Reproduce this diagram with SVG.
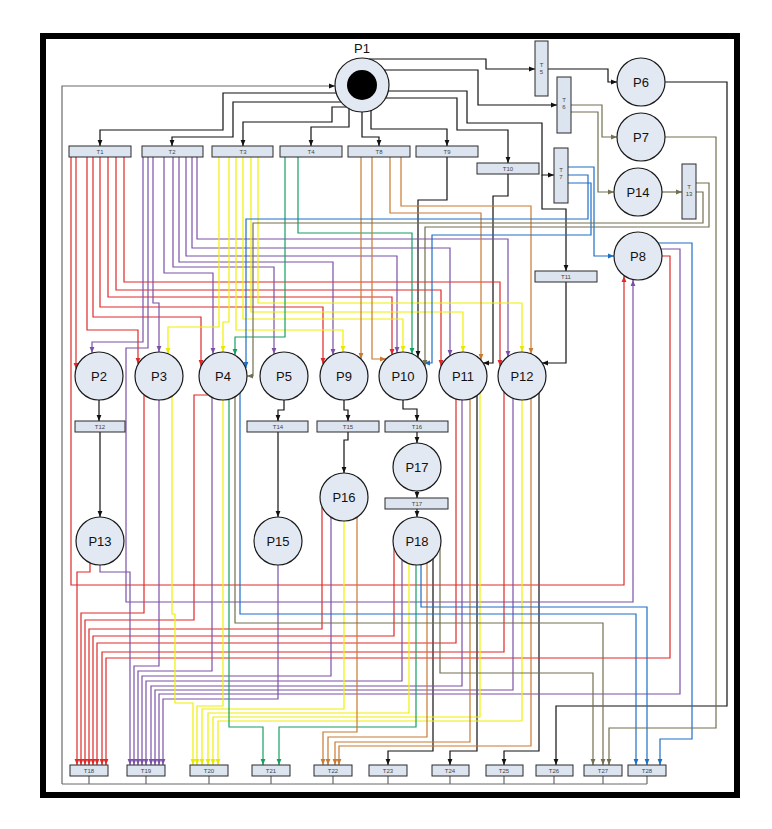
<svg xmlns="http://www.w3.org/2000/svg" width="772" height="829" viewBox="0 0 772 829">
<defs>
<style>
.pl{fill:#e3e9f3;stroke:#1a1a1a;stroke-width:1.2}
.tr{fill:#dce4ef;stroke:#2a2a2a;stroke-width:1}
.lp{font-family:"Liberation Sans",Arial,sans-serif;font-size:13px;text-anchor:middle;fill:#111}
.lt{font-family:"Liberation Sans",Arial,sans-serif;font-size:6px;text-anchor:middle;fill:#444}
#connectors path{fill:none;stroke-width:1.2}
#connectors .k{stroke:#111;marker-end:url(#mk)}
#connectors .r{stroke:#e02828;marker-end:url(#mr)}
#connectors .u{stroke:#7b50a8;marker-end:url(#mu)}
#connectors .y{stroke:#f0f000;marker-end:url(#my)}
#connectors .g{stroke:#14a060;marker-end:url(#mg)}
#connectors .o{stroke:#c87a30;marker-end:url(#mo)}
#connectors .b{stroke:#1c6fc6;marker-end:url(#mb)}
#connectors .v{stroke:#727050;marker-end:url(#mv)}
#connectors .gr{stroke:#6a6a6a}
#connectors .gra{stroke:#6a6a6a;marker-end:url(#mk)}
</style>
<marker id="mk" viewBox="0 0 10 10" refX="10" refY="5" markerWidth="6" markerHeight="6" orient="auto" markerUnits="userSpaceOnUse"><path d="M0 1L10 5L0 9z" fill="#111"/></marker>
<marker id="mr" viewBox="0 0 10 10" refX="10" refY="5" markerWidth="6" markerHeight="6" orient="auto" markerUnits="userSpaceOnUse"><path d="M0 1L10 5L0 9z" fill="#e02828"/></marker>
<marker id="mu" viewBox="0 0 10 10" refX="10" refY="5" markerWidth="6" markerHeight="6" orient="auto" markerUnits="userSpaceOnUse"><path d="M0 1L10 5L0 9z" fill="#7b50a8"/></marker>
<marker id="my" viewBox="0 0 10 10" refX="10" refY="5" markerWidth="6" markerHeight="6" orient="auto" markerUnits="userSpaceOnUse"><path d="M0 1L10 5L0 9z" fill="#e8e800"/></marker>
<marker id="mg" viewBox="0 0 10 10" refX="10" refY="5" markerWidth="6" markerHeight="6" orient="auto" markerUnits="userSpaceOnUse"><path d="M0 1L10 5L0 9z" fill="#14a060"/></marker>
<marker id="mo" viewBox="0 0 10 10" refX="10" refY="5" markerWidth="6" markerHeight="6" orient="auto" markerUnits="userSpaceOnUse"><path d="M0 1L10 5L0 9z" fill="#c87a30"/></marker>
<marker id="mb" viewBox="0 0 10 10" refX="10" refY="5" markerWidth="6" markerHeight="6" orient="auto" markerUnits="userSpaceOnUse"><path d="M0 1L10 5L0 9z" fill="#1c6fc6"/></marker>
<marker id="mv" viewBox="0 0 10 10" refX="10" refY="5" markerWidth="6" markerHeight="6" orient="auto" markerUnits="userSpaceOnUse"><path d="M0 1L10 5L0 9z" fill="#727050"/></marker>
</defs>
<rect width="772" height="829" fill="#fff"/>
<rect x="43" y="36" width="694" height="759" fill="none" stroke="#000" stroke-width="6"/>
<g id="connectors">
<path class="gra" d="M62 784 V86 H335"/>
<path class="gr" d="M62 784 H647 M89 776 V784 M146 776 V784 M209 776 V784 M271 776 V784 M333 776 V784 M388 776 V784 M450 776 V784 M504 776 V784 M554 776 V784 M603 776 V784 M647 776 V784"/>
<path class="k" d="M336 93 H223 V130 H100 V146"/>
<path class="k" d="M341 102 H233 V137 H172 V146"/>
<path class="k" d="M346 107 H332 V122 H243 V146"/>
<path class="k" d="M349 109 V127 H311 V146"/>
<path class="k" d="M362 112 V137 H379 V146"/>
<path class="k" d="M371 110 V129 H447 V146"/>
<path class="k" d="M386 98 H457 V130 H508 V163"/>
<path class="k" d="M388 91 H467 V123 H542 V175 H554"/>
<path class="k" d="M542 175 V209 H566 V271"/>
<path class="k" d="M384 70 H478 V105 H557"/>
<path class="k" d="M369 59 H486 V69 H535"/>
<path class="k" d="M548 69 H608 V82 H617"/>
<path class="k" d="M447 157 V200 H418 V357"/>
<path class="k" d="M508 174 V196 H493 V363 H483"/>
<path class="k" d="M566 282 V363 H542"/>
<path class="k" d="M99 400 V421"/>
<path class="k" d="M100 432 V517"/>
<path class="k" d="M284 400 V410 H278 V421"/>
<path class="k" d="M278 432 V517"/>
<path class="k" d="M344 400 V410 H348 V421"/>
<path class="k" d="M348 432 V440 H344 V473"/>
<path class="k" d="M403 400 V409 H417 V421"/>
<path class="k" d="M417 432 V443"/>
<path class="k" d="M417 491 V498"/>
<path class="k" d="M417 509 V517"/>
<path class="k" d="M665 82 H727 V706 H556 V765"/>
<path class="k" d="M433 559 V751 H388 V765"/>
<path class="k" d="M477 395 V751 H450 V765"/>
<path class="k" d="M539 393 V751 H504 V765"/>
<path class="r" d="M71 157 V585 H624 V276"/>
<path class="r" d="M76 157 V369"/>
<path class="r" d="M87 157 V330 H138 V364"/>
<path class="r" d="M93 157 V317 H201 V366"/>
<path class="r" d="M100 157 V307 H323 V364"/>
<path class="r" d="M108 157 V297 H392 V355"/>
<path class="r" d="M116 157 V290 H441 V366"/>
<path class="r" d="M124 157 V282 H500 V366"/>
<path class="r" d="M90 563 V572 H77 V765"/>
<path class="r" d="M144 395 V613 H81 V765"/>
<path class="r" d="M208 395 H194 V620 H85 V765"/>
<path class="r" d="M322 507 V629 H89 V765"/>
<path class="r" d="M394 548 V636 H93 V765"/>
<path class="r" d="M456 399 V643 H97 V765"/>
<path class="r" d="M504 392 V652 H102 V765"/>
<path class="r" d="M662 256 H670 V658 H106 V765"/>
<path class="u" d="M143 157 V342 H92 V353"/>
<path class="u" d="M148 157 V348 H126 V602 H633 V280"/>
<path class="u" d="M153 157 V303 H159 V352"/>
<path class="u" d="M164 157 V273 H213 V354"/>
<path class="u" d="M173 157 V267 H274 V354"/>
<path class="u" d="M179 157 V262 H333 V355"/>
<path class="u" d="M186 157 V256 H397 V353"/>
<path class="u" d="M192 157 V248 H450 V356"/>
<path class="u" d="M197 157 V239 H508 V357"/>
<path class="u" d="M100 565 V572 H130 V765"/>
<path class="u" d="M159 400 V666 H134 V765"/>
<path class="u" d="M212 397 V671 H138 V765"/>
<path class="u" d="M331 517 V676 H142 V765"/>
<path class="u" d="M402 560 V681 H146 V765"/>
<path class="u" d="M462 400 V686 H151 V765"/>
<path class="u" d="M513 398 V690 H155 V765"/>
<path class="u" d="M661 249 H680 V694 H159 V765"/>
<path class="u" d="M278 565 V699 H163 V765"/>
<path class="y" d="M219 157 V327 H168 V354"/>
<path class="y" d="M229 157 V322 H223 V352"/>
<path class="y" d="M236 157 V330 H343 V352"/>
<path class="y" d="M243 157 V319 H403 V352"/>
<path class="y" d="M251 157 V312 H463 V352"/>
<path class="y" d="M258 157 V303 H522 V352"/>
<path class="y" d="M172 396 V614 H175 V703 H193 V765"/>
<path class="y" d="M223 400 V706 H197 V765"/>
<path class="y" d="M344 521 V709 H202 V765"/>
<path class="y" d="M409 564 V713 H208 V765"/>
<path class="y" d="M480 393 V717 H213 V765"/>
<path class="y" d="M522 400 V721 H218 V765"/>
<path class="g" d="M285 157 V337 H235 V355"/>
<path class="g" d="M298 157 V233 H412 V354"/>
<path class="g" d="M229 399 V727 H263 V765"/>
<path class="g" d="M416 565 V727 H279 V765"/>
<path class="o" d="M361 157 V359"/>
<path class="o" d="M372 157 V359 H386"/>
<path class="o" d="M390 157 V213 H481 V360"/>
<path class="o" d="M401 157 V206 H531 V354"/>
<path class="o" d="M357 517 V732 H323 V765"/>
<path class="o" d="M427 563 V737 H328 V765"/>
<path class="o" d="M470 399 V742 H335 V765"/>
<path class="o" d="M531 398 V746 H339 V765"/>
<path class="b" d="M568 167 H594 V256 H614"/>
<path class="b" d="M568 175 H588 V219 H246 V368"/>
<path class="b" d="M568 183 H591 V235 H432 V363 H424"/>
<path class="b" d="M240 393 V614 H636 V765"/>
<path class="b" d="M421 565 V607 H647 V765"/>
<path class="b" d="M658 243 H692 V739 H660 V765"/>
<path class="v" d="M571 105 H602 V137 H617"/>
<path class="v" d="M571 112 H598 V192 H614"/>
<path class="v" d="M662 192 H682"/>
<path class="v" d="M696 183 H709 V227 H425 V366"/>
<path class="v" d="M696 192 H703 V223 H253 V376 H247"/>
<path class="v" d="M235 397 V623 H603 V765"/>
<path class="v" d="M440 548 V673 H593 V765"/>
<path class="v" d="M665 137 H716 V728 H609 V765"/>
</g>
<g id="P1"><text class="lp" x="362" y="53">P1</text><circle class="pl" cx="362" cy="85" r="27"/><circle cx="362" cy="85" r="15" fill="#000"/></g>
<g id="P2"><circle class="pl" cx="99" cy="376" r="24"/><text class="lp" x="99" y="381">P2</text></g>
<g id="P3"><circle class="pl" cx="159" cy="376" r="24"/><text class="lp" x="159" y="381">P3</text></g>
<g id="P4"><circle class="pl" cx="223" cy="376" r="24"/><text class="lp" x="223" y="381">P4</text></g>
<g id="P5"><circle class="pl" cx="284" cy="376" r="24"/><text class="lp" x="284" y="381">P5</text></g>
<g id="P9"><circle class="pl" cx="344" cy="376" r="24"/><text class="lp" x="344" y="381">P9</text></g>
<g id="P10"><circle class="pl" cx="403" cy="376" r="24"/><text class="lp" x="403" y="381">P10</text></g>
<g id="P11"><circle class="pl" cx="463" cy="376" r="24"/><text class="lp" x="463" y="381">P11</text></g>
<g id="P12"><circle class="pl" cx="522" cy="376" r="24"/><text class="lp" x="522" y="381">P12</text></g>
<g id="P6"><circle class="pl" cx="641" cy="82" r="24"/><text class="lp" x="641" y="87">P6</text></g>
<g id="P7"><circle class="pl" cx="641" cy="137" r="24"/><text class="lp" x="641" y="142">P7</text></g>
<g id="P14"><circle class="pl" cx="638" cy="192" r="24"/><text class="lp" x="638" y="197">P14</text></g>
<g id="P8"><circle class="pl" cx="638" cy="256" r="24"/><text class="lp" x="638" y="261">P8</text></g>
<g id="P13"><circle class="pl" cx="100" cy="541" r="24"/><text class="lp" x="100" y="546">P13</text></g>
<g id="P15"><circle class="pl" cx="278" cy="541" r="24"/><text class="lp" x="278" y="546">P15</text></g>
<g id="P16"><circle class="pl" cx="344" cy="497" r="24"/><text class="lp" x="344" y="502">P16</text></g>
<g id="P17"><circle class="pl" cx="417" cy="467" r="24"/><text class="lp" x="417" y="472">P17</text></g>
<g id="P18"><circle class="pl" cx="417" cy="541" r="24"/><text class="lp" x="417" y="546">P18</text></g>
<g id="T1"><rect class="tr" x="69" y="146" width="62" height="11"/><text class="lt" x="100" y="154">T1</text></g>
<g id="T2"><rect class="tr" x="142" y="146" width="61" height="11"/><text class="lt" x="172" y="154">T2</text></g>
<g id="T3"><rect class="tr" x="212" y="146" width="61" height="11"/><text class="lt" x="243" y="154">T3</text></g>
<g id="T4"><rect class="tr" x="280" y="146" width="62" height="11"/><text class="lt" x="311" y="154">T4</text></g>
<g id="T8"><rect class="tr" x="348" y="146" width="62" height="11"/><text class="lt" x="379" y="154">T8</text></g>
<g id="T9"><rect class="tr" x="416" y="146" width="62" height="11"/><text class="lt" x="447" y="154">T9</text></g>
<g id="T10"><rect class="tr" x="477" y="163" width="62" height="11"/><text class="lt" x="508" y="171">T10</text></g>
<g id="T5"><rect class="tr" x="535" y="41" width="13" height="55"/><text class="lt" x="541.5" y="67">T</text><text class="lt" x="541.5" y="74">5</text></g>
<g id="T6"><rect class="tr" x="557" y="77" width="14" height="56"/><text class="lt" x="564" y="102">T</text><text class="lt" x="564" y="109">6</text></g>
<g id="T7"><rect class="tr" x="554" y="148" width="14" height="55"/><text class="lt" x="561" y="172">T</text><text class="lt" x="561" y="179">7</text></g>
<g id="T13"><rect class="tr" x="682" y="164" width="14" height="55"/><text class="lt" x="689" y="189">T</text><text class="lt" x="689" y="196">13</text></g>
<g id="T11"><rect class="tr" x="535" y="271" width="62" height="11"/><text class="lt" x="566" y="279">T11</text></g>
<g id="T12"><rect class="tr" x="75" y="421" width="50" height="11"/><text class="lt" x="100" y="429">T12</text></g>
<g id="T14"><rect class="tr" x="247" y="421" width="61" height="11"/><text class="lt" x="278" y="429">T14</text></g>
<g id="T15"><rect class="tr" x="317" y="421" width="62" height="11"/><text class="lt" x="348" y="429">T15</text></g>
<g id="T16"><rect class="tr" x="385" y="421" width="63" height="11"/><text class="lt" x="417" y="429">T16</text></g>
<g id="T17"><rect class="tr" x="385" y="498" width="63" height="11"/><text class="lt" x="417" y="506">T17</text></g>
<g id="T18"><rect class="tr" x="70" y="765" width="38" height="11"/><text class="lt" x="89" y="773">T18</text></g>
<g id="T19"><rect class="tr" x="127" y="765" width="38" height="11"/><text class="lt" x="146" y="773">T19</text></g>
<g id="T20"><rect class="tr" x="190" y="765" width="38" height="11"/><text class="lt" x="209" y="773">T20</text></g>
<g id="T21"><rect class="tr" x="252" y="765" width="38" height="11"/><text class="lt" x="271" y="773">T21</text></g>
<g id="T22"><rect class="tr" x="314" y="765" width="38" height="11"/><text class="lt" x="333" y="773">T22</text></g>
<g id="T23"><rect class="tr" x="369" y="765" width="38" height="11"/><text class="lt" x="388" y="773">T23</text></g>
<g id="T24"><rect class="tr" x="432" y="765" width="37" height="11"/><text class="lt" x="450" y="773">T24</text></g>
<g id="T25"><rect class="tr" x="486" y="765" width="37" height="11"/><text class="lt" x="504" y="773">T25</text></g>
<g id="T26"><rect class="tr" x="536" y="765" width="37" height="11"/><text class="lt" x="554" y="773">T26</text></g>
<g id="T27"><rect class="tr" x="584" y="765" width="38" height="11"/><text class="lt" x="603" y="773">T27</text></g>
<g id="T28"><rect class="tr" x="628" y="765" width="38" height="11"/><text class="lt" x="647" y="773">T28</text></g>
</svg>
